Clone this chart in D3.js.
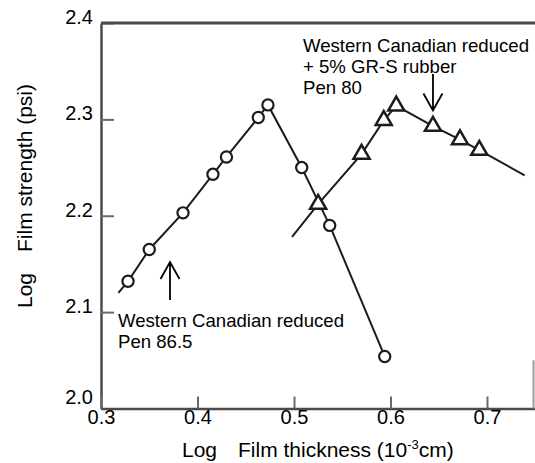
<!DOCTYPE html>
<html>
<head>
<meta charset="utf-8">
<script src="https://cdn.jsdelivr.net/npm/d3@7"></script>
<style>
  html, body { margin: 0; padding: 0; background: #fff; }
  svg { display: block; font-family: Arial, "Liberation Sans", Helvetica, sans-serif; }
</style>
</head>
<body>
<svg id="chart" width="535" height="463"></svg>
<script>
// Log film thickness (10^-3 cm) vs log film strength (psi)
const thicknessA = [0.328, 0.350, 0.385, 0.416, 0.430, 0.463, 0.473, 0.508, 0.537, 0.594];
const strengthA  = [2.132, 2.165, 2.203, 2.243, 2.261, 2.302, 2.315, 2.250, 2.190, 2.054];
// trend line for series A starts a little before its first point
const trendStartA = [0.318, 2.120];

const thicknessB = [0.525, 0.570, 0.593, 0.606, 0.644, 0.672, 0.692];
const strengthB  = [2.212, 2.264, 2.299, 2.314, 2.293, 2.279, 2.268];
// trend line for series B runs past both ends
const trendStartB = [0.498, 2.178];
const trendEndB   = [0.739, 2.242];

const xTicks = [0.3, 0.4, 0.5, 0.6, 0.7];
const yTicks = [2.0, 2.1, 2.2, 2.3, 2.4];

const labelA = ["Western Canadian reduced", "Pen 86.5"];
const labelB = ["Western Canadian reduced", "+ 5% GR-S rubber", "Pen 80"];

const svg = d3.select("#chart");

const x = d3.scaleLinear().domain([0.3, 0.75]).range([101, 535.25]);
const y = d3.scaleLinear().domain([2.0, 2.4]).range([408.5, 23]);

const frameColor = "#4a4a4a";
const inkColor = "#1c1c1c";

// axes with inward ticks
const gy = svg.append("g").attr("transform", `translate(${x(0.3)},0)`)
  .call(d3.axisLeft(y).tickValues(yTicks).tickFormat(d3.format(".1f"))
    .tickSizeInner(-13).tickSizeOuter(0).tickPadding(8));
const gx = svg.append("g").attr("transform", `translate(0,${y(2.0)})`)
  .call(d3.axisBottom(x).tickValues(xTicks).tickFormat(d3.format(".1f"))
    .tickSizeInner(-12).tickSizeOuter(0).tickPadding(1));

[gy, gx].forEach(g => {
  g.select(".domain").attr("stroke", frameColor).attr("stroke-width", 2.5);
  g.selectAll(".tick line").attr("stroke", "#6a6a6a").attr("stroke-width", 2);
  g.selectAll(".tick text").attr("fill", "#000").attr("font-size", 20)
    .attr("font-family", "Arial, 'Liberation Sans', sans-serif");
});
gy.selectAll(".tick text").attr("dy", d => d === 2.0 ? "-0.27em" : "0.02em");
gx.selectAll(".tick text").attr("dy", "0.71em");

// top border and the faint remnant of the right border
svg.append("line")
  .attr("x1", x(0.3)).attr("x2", 535).attr("y1", y(2.4)).attr("y2", y(2.4))
  .attr("stroke", frameColor).attr("stroke-width", 2.8);
svg.append("line")
  .attr("x1", 533.5).attr("x2", 533.5).attr("y1", y(2.05)).attr("y2", y(2.0))
  .attr("stroke", "#9a9a9a").attr("stroke-width", 2);

// trend lines through the measured points
const line = d3.line().x(d => x(d[0])).y(d => y(d[1]));
const ptsA = thicknessA.map((t, i) => [t, strengthA[i]]);
const ptsB = thicknessB.map((t, i) => [t, strengthB[i]]);

svg.append("path").datum([trendStartA, ...ptsA])
  .attr("d", line).attr("fill", "none")
  .attr("stroke", inkColor).attr("stroke-width", 2);
svg.append("path").datum([trendStartB, ...ptsB, trendEndB])
  .attr("d", line).attr("fill", "none")
  .attr("stroke", inkColor).attr("stroke-width", 2);

// open circle markers
svg.append("g").selectAll("circle").data(ptsA).join("circle")
  .attr("cx", d => x(d[0])).attr("cy", d => y(d[1])).attr("r", 5.6)
  .attr("fill", "#fff").attr("stroke", inkColor).attr("stroke-width", 2.2);

// open triangle markers
const tri = d3.symbol().type(d3.symbolTriangle).size(112);
svg.append("g").selectAll("path").data(ptsB).join("path")
  .attr("d", tri)
  .attr("transform", d => `translate(${x(d[0])},${y(d[1])})`)
  .attr("fill", "#fff").attr("stroke", inkColor).attr("stroke-width", 2.5)
  .attr("stroke-linejoin", "miter");

// annotations
function arrow(xp, yFrom, yTo) {
  const dir = yTo > yFrom ? -1 : 1;
  svg.append("path")
    .attr("d", `M${xp},${yFrom}L${xp},${yTo}M${xp - 9.5},${yTo + dir * 17}L${xp},${yTo}L${xp + 9.5},${yTo + dir * 17}`)
    .attr("fill", "none").attr("stroke", "#000").attr("stroke-width", 1.8);
}

function textBlock(lines, x0, y0, lh) {
  const t = svg.append("text").attr("font-size", 18.6).attr("fill", "#000");
  lines.forEach((s, i) => t.append("tspan").attr("x", x0).attr("y", y0 + i * lh).text(s));
}

textBlock(labelA, 118, 327, 21);
arrow(170, 300, 262);

textBlock(labelB, 303, 52, 21.2);
arrow(x(thicknessB[4]), 74, 110.5);

// axis titles
const xTitle = svg.append("text").attr("font-size", 21).attr("fill", "#000").attr("y", 457);
xTitle.append("tspan").attr("x", 182).text("Log");
xTitle.append("tspan").attr("x", 238).text("Film thickness (10");
xTitle.append("tspan").attr("font-size", 13).attr("dy", -8).text("-3");
xTitle.append("tspan").attr("dy", 8).text("cm)");

const yTitle = svg.append("text").attr("font-size", 21).attr("fill", "#000")
  .attr("transform", "translate(31.5,308) rotate(-90)");
yTitle.append("tspan").attr("x", 0).text("Log");
yTitle.append("tspan").attr("x", 56).text("Film strength (psi)");
</script>
</body>
</html>
